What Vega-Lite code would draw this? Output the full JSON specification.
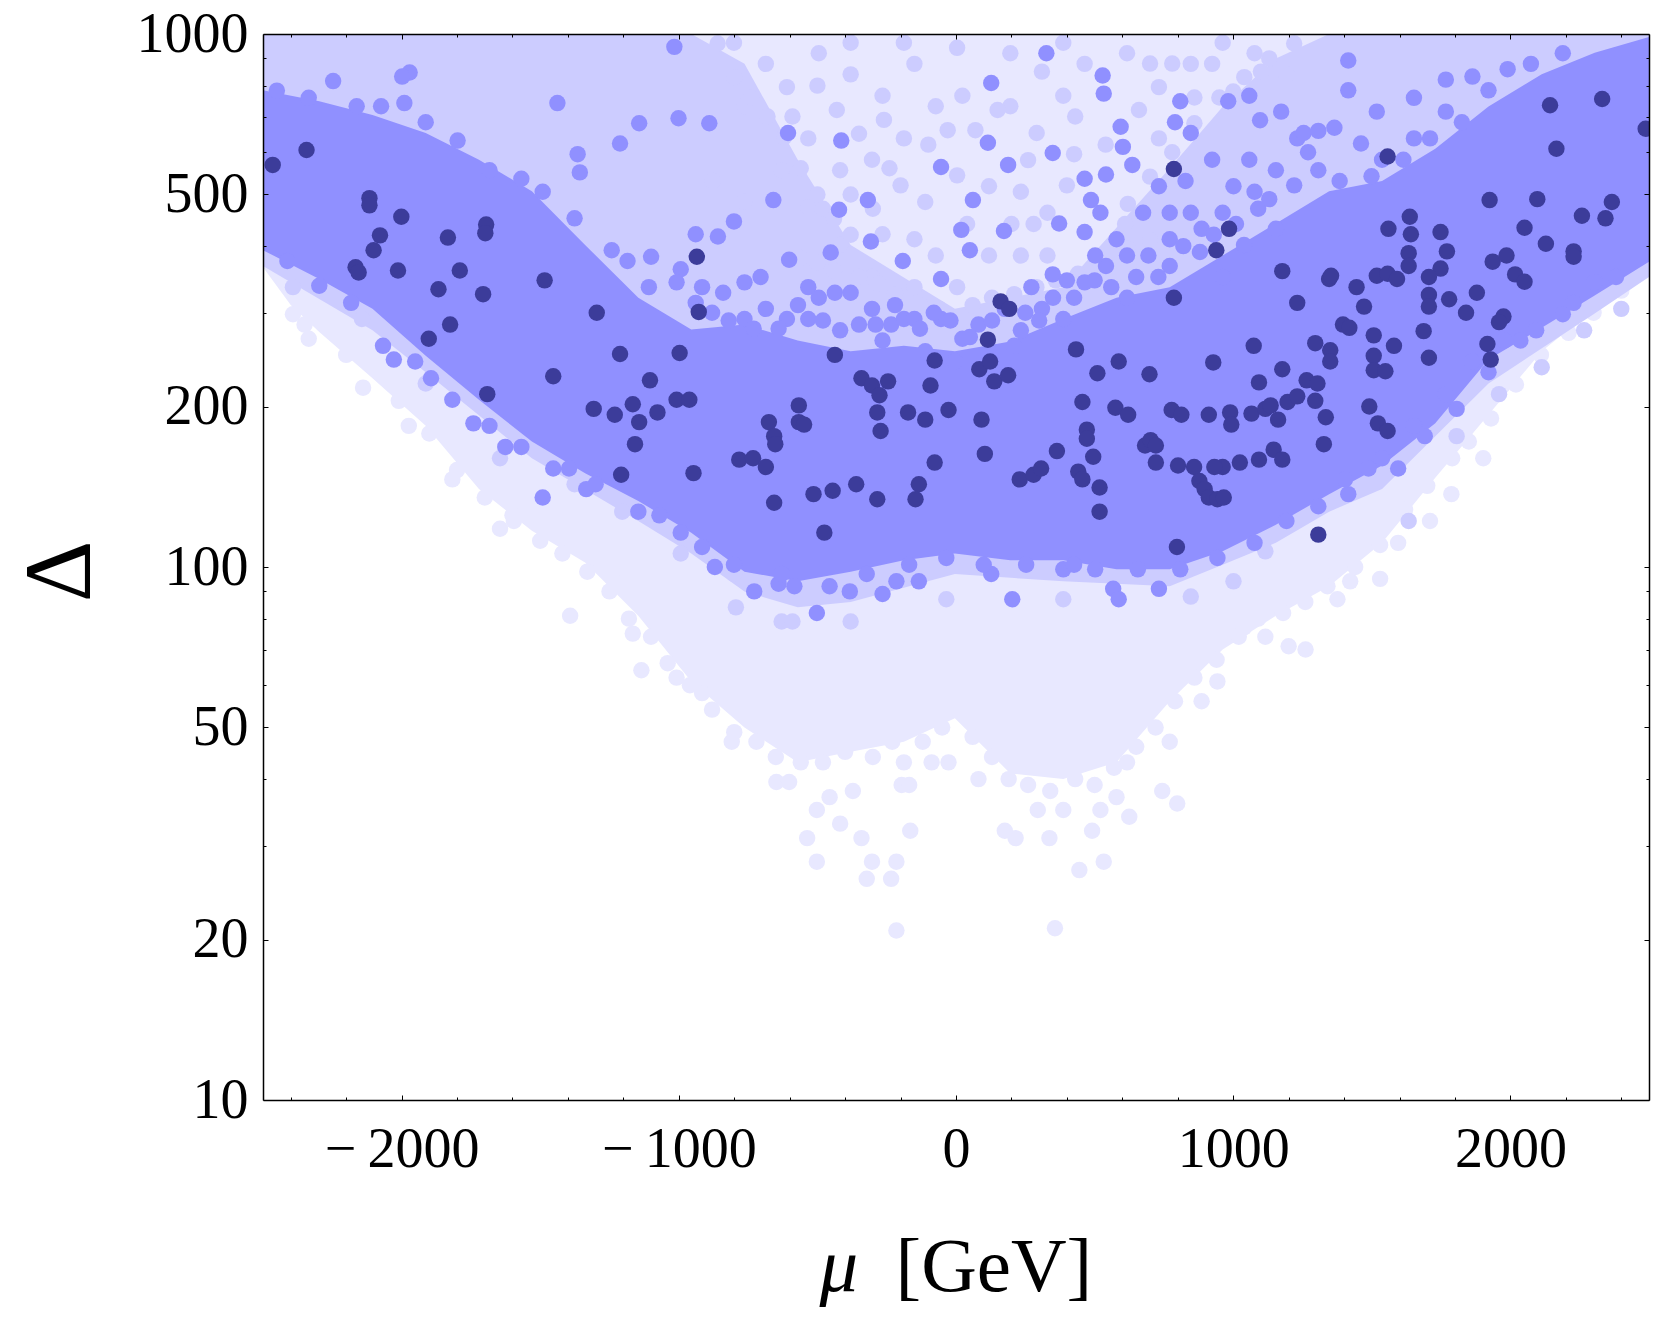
{
  "$schema": "https://vega.github.io/schema/vega-lite/v6.json",
  "width": 1386,
  "height": 1066,
  "autosize": "none",
  "padding": {"left": 263, "top": 34, "right": 18, "bottom": 223},
  "background": "#ffffff",
  "view": {"stroke": null, "fill": "#ffffff"},
  "resolve": {"axis": {"x": "independent", "y": "independent"}},
  "datasets": {
    "cloud1": [
      {"mu":-2500,"low":365,"high":1000},{"mu":-2400,"low":310,"high":1000},{"mu":-2297,"low":276,"high":1000},{"mu":-2105,"low":226,"high":1000},{"mu":-1913,"low":184,"high":1000},{"mu":-1721,"low":140,"high":1000},{"mu":-1530,"low":117,"high":1000},{"mu":-1338,"low":102,"high":1000},{"mu":-1146,"low":81,"high":1000},{"mu":-955,"low":61,"high":1000},{"mu":-763,"low":50,"high":1000},{"mu":-571,"low":43,"high":1000},{"mu":-380,"low":45,"high":1000},{"mu":-188,"low":47,"high":1000},{"mu":-4,"low":52,"high":1000},{"mu":196,"low":41,"high":1000},{"mu":387,"low":40,"high":1000},{"mu":579,"low":43,"high":1000},{"mu":771,"low":56,"high":1000},{"mu":962,"low":70,"high":1000},{"mu":1154,"low":81,"high":1000},{"mu":1346,"low":92,"high":1000},{"mu":1537,"low":111,"high":1000},{"mu":1729,"low":147,"high":1000},{"mu":1921,"low":193,"high":1000},{"mu":2113,"low":254,"high":1000},{"mu":2304,"low":305,"high":1000},{"mu":2500,"low":365,"high":1000}
    ],
    "dots1": [
      {"mu":-215,"delta":20.8},{"mu":357,"delta":21},{"mu":-234,"delta":26},{"mu":-215,"delta":28},{"mu":-303,"delta":28},{"mu":-322,"delta":26},{"mu":-502,"delta":28},{"mu":-537,"delta":31},{"mu":-502,"delta":35},{"mu":-418,"delta":33},{"mu":-341,"delta":31},{"mu":-165,"delta":32},{"mu":176,"delta":32},{"mu":215,"delta":31},{"mu":337,"delta":31},{"mu":445,"delta":27},{"mu":533,"delta":28},{"mu":491,"delta":32},{"mu":521,"delta":35},{"mu":625,"delta":34},{"mu":744,"delta":38},{"mu":798,"delta":36},{"mu":579,"delta":37},{"mu":387,"delta":35},{"mu":295,"delta":35},{"mu":81,"delta":40},{"mu":-27,"delta":43},{"mu":-88,"delta":43},{"mu":-188,"delta":43},{"mu":-196,"delta":39},{"mu":-169,"delta":39},{"mu":-372,"delta":38},{"mu":-456,"delta":37},{"mu":-648,"delta":39.5},{"mu":-602,"delta":39.5},{"mu":-809,"delta":47},{"mu":-916,"delta":58},{"mu":-1008,"delta":62},{"mu":-1135,"delta":64},{"mu":-1166,"delta":75},{"mu":-1392,"delta":81},{"mu":-1212,"delta":93},{"mu":-1645,"delta":118},{"mu":-1595,"delta":122},{"mu":-1817,"delta":146},{"mu":-1974,"delta":184},{"mu":-2139,"delta":217},{"mu":-2335,"delta":268},{"mu":-2392,"delta":298},{"mu":1039,"delta":77},{"mu":1112,"delta":106},{"mu":1200,"delta":71},{"mu":1261,"delta":70},{"mu":1116,"delta":74},{"mu":1530,"delta":95},{"mu":1595,"delta":111},{"mu":1710,"delta":122},{"mu":1376,"delta":87},{"mu":1787,"delta":137},{"mu":1902,"delta":160},{"mu":1422,"delta":94},{"mu":943,"delta":61},{"mu":886,"delta":56},{"mu":771,"delta":47},{"mu":617,"delta":43},
      {"mu":-2350,"delta":285},{"mu":-2200,"delta":250},{"mu":-2010,"delta":205},{"mu":-1900,"delta":178},{"mu":-1800,"delta":152},{"mu":-1700,"delta":135},{"mu":-1600,"delta":125},{"mu":-1500,"delta":112},{"mu":-1420,"delta":106},{"mu":-1330,"delta":98},{"mu":-1250,"delta":90},{"mu":-1180,"delta":80},{"mu":-1100,"delta":74},{"mu":-1040,"delta":66},{"mu":-960,"delta":60},{"mu":-880,"delta":54},{"mu":-800,"delta":49},{"mu":-720,"delta":47},{"mu":-650,"delta":44},{"mu":-560,"delta":43},{"mu":-480,"delta":43},{"mu":-400,"delta":45},{"mu":-300,"delta":44},{"mu":-230,"delta":47},{"mu":-120,"delta":47},{"mu":-50,"delta":50},{"mu":60,"delta":48},{"mu":130,"delta":44},{"mu":190,"delta":40},{"mu":260,"delta":39},{"mu":340,"delta":38},{"mu":430,"delta":40},{"mu":500,"delta":39},{"mu":570,"delta":42},{"mu":650,"delta":46},{"mu":720,"delta":50},{"mu":790,"delta":56},{"mu":860,"delta":62},{"mu":940,"delta":67},{"mu":1020,"delta":74},{"mu":1090,"delta":80},{"mu":1180,"delta":82},{"mu":1260,"delta":86},{"mu":1340,"delta":92},{"mu":1440,"delta":100},{"mu":1530,"delta":110},{"mu":1620,"delta":128},{"mu":1700,"delta":142},{"mu":1790,"delta":160},{"mu":1850,"delta":172},{"mu":1930,"delta":190},{"mu":2020,"delta":220},{"mu":2110,"delta":250},{"mu":2210,"delta":275},{"mu":2300,"delta":300},{"mu":2400,"delta":330}
    ],
    "cloud2": [
      {"mu":-2500,"low":367,"high":1000},{"mu":-2105,"low":278,"high":1000},{"mu":-1913,"low":232,"high":1000},{"mu":-1530,"low":160,"high":1000},{"mu":-1146,"low":122,"high":1000},{"mu":-955,"low":106,"high":1000},{"mu":-763,"low":90,"high":879},{"mu":-571,"low":84,"high":581},{"mu":-380,"low":86,"high":402},{"mu":-4,"low":97,"high":305},{"mu":387,"low":94,"high":335},{"mu":771,"low":92,"high":560},{"mu":962,"low":101,"high":730},{"mu":1154,"low":111,"high":900},{"mu":1346,"low":127,"high":1000},{"mu":1537,"low":140,"high":1000},{"mu":1729,"low":176,"high":1000},{"mu":1921,"low":221,"high":1000},{"mu":2304,"low":299,"high":1000},{"mu":2500,"low":350,"high":1000}
    ],
    "dots2": [
      {"mu":-763,"delta":732},{"mu":-686,"delta":879},{"mu":-610,"delta":795},{"mu":-495,"delta":920},{"mu":-380,"delta":840},{"mu":-265,"delta":766},{"mu":-150,"delta":879},{"mu":-73,"delta":732},{"mu":23,"delta":766},{"mu":196,"delta":732},{"mu":291,"delta":652},{"mu":387,"delta":766},{"mu":464,"delta":879},{"mu":617,"delta":920},{"mu":732,"delta":795},{"mu":-533,"delta":637},{"mu":-418,"delta":555},{"mu":-303,"delta":581},{"mu":-188,"delta":637},{"mu":-111,"delta":484},{"mu":4,"delta":543},{"mu":119,"delta":518},{"mu":234,"delta":506},{"mu":330,"delta":462},{"mu":426,"delta":595},{"mu":-533,"delta":473},{"mu":-629,"delta":555},{"mu":-265,"delta":421},{"mu":-150,"delta":412},{"mu":-73,"delta":384},{"mu":119,"delta":384},{"mu":234,"delta":384},{"mu":330,"delta":384},{"mu":4,"delta":335},{"mu":-150,"delta":335},{"mu":-303,"delta":350},{"mu":-418,"delta":402},{"mu":847,"delta":879},{"mu":962,"delta":963},{"mu":1077,"delta":920},{"mu":1192,"delta":840},{"mu":732,"delta":637},{"mu":-763,"delta":484},{"mu":-878,"delta":530},{"mu":196,"delta":920},{"mu":387,"delta":963},{"mu":4,"delta":942},{"mu":-188,"delta":963},{"mu":-380,"delta":963},{"mu":-801,"delta":963},{"mu":924,"delta":879},
      {"mu":1116,"delta":107},{"mu":1633,"delta":122},{"mu":1806,"delta":176},{"mu":1959,"delta":211},{"mu":2113,"delta":237},{"mu":2266,"delta":278},{"mu":2400,"delta":305},{"mu":-380,"delta":79},{"mu":-35,"delta":87},{"mu":387,"delta":87},{"mu":-629,"delta":79},{"mu":-794,"delta":84},{"mu":-590,"delta":79},{"mu":847,"delta":88},{"mu":1001,"delta":94},{"mu":-993,"delta":106},{"mu":-1204,"delta":127},{"mu":-1376,"delta":143},{"mu":-1645,"delta":160},{"mu":-1913,"delta":221},{"mu":-2143,"delta":292},{"mu":-2392,"delta":335},{"mu":-801,"delta":97},
      {"mu":-560,"delta":380},{"mu":-500,"delta":372},{"mu":-440,"delta":360},{"mu":-350,"delta":350},{"mu":-280,"delta":340},{"mu":-220,"delta":325},{"mu":-130,"delta":310},{"mu":-60,"delta":305},{"mu":60,"delta":310},{"mu":130,"delta":320},{"mu":210,"delta":325},{"mu":290,"delta":335},{"mu":360,"delta":345},{"mu":440,"delta":355},{"mu":520,"delta":370},{"mu":620,"delta":395},{"mu":700,"delta":410},
      {"mu":-590,"delta":700},{"mu":-500,"delta":800},{"mu":-430,"delta":720},{"mu":-350,"delta":650},{"mu":-260,"delta":690},{"mu":-200,"delta":520},{"mu":-100,"delta":620},{"mu":-30,"delta":660},{"mu":70,"delta":660},{"mu":150,"delta":720},{"mu":260,"delta":580},{"mu":310,"delta":850},{"mu":430,"delta":700},{"mu":540,"delta":620},{"mu":660,"delta":720},{"mu":700,"delta":880},{"mu":780,"delta":880},{"mu":860,"delta":760},{"mu":1000,"delta":780},{"mu":1100,"delta":850},{"mu":-300,"delta":470},{"mu":-240,"delta":560},{"mu":40,"delta":440},{"mu":200,"delta":440},{"mu":280,"delta":440},{"mu":400,"delta":520},{"mu":620,"delta":480},{"mu":-480,"delta":470},{"mu":-380,"delta":500},{"mu":610,"delta":440},
      {"mu":-860,"delta":960},{"mu":-800,"delta":830},{"mu":-740,"delta":760},{"mu":-680,"delta":700},{"mu":-620,"delta":640},{"mu":-560,"delta":560},{"mu":-500,"delta":500},{"mu":-440,"delta":450},{"mu":-380,"delta":420},{"mu":700,"delta":540},{"mu":780,"delta":600},{"mu":860,"delta":680},{"mu":950,"delta":760},{"mu":1040,"delta":830},{"mu":1130,"delta":900},{"mu":1220,"delta":960}
    ],
    "cloud3": [
      {"mu":-2500,"low":393,"high":784},{"mu":-2297,"low":347,"high":748},{"mu":-2105,"low":305,"high":705},{"mu":-1913,"low":249,"high":652},{"mu":-1721,"low":206,"high":581},{"mu":-1530,"low":172,"high":507},{"mu":-1338,"low":150,"high":402},{"mu":-1146,"low":133,"high":320},{"mu":-955,"low":116,"high":279},{"mu":-763,"low":98,"high":285},{"mu":-571,"low":94,"high":266},{"mu":-380,"low":98,"high":254},{"mu":-188,"low":103,"high":260},{"mu":-4,"low":106,"high":254},{"mu":196,"low":103,"high":265},{"mu":387,"low":103,"high":292},{"mu":579,"low":99,"high":320},{"mu":771,"low":99,"high":335},{"mu":962,"low":107,"high":384},{"mu":1154,"low":120,"high":441},{"mu":1346,"low":137,"high":507},{"mu":1537,"low":155,"high":530},{"mu":1729,"low":186,"high":609},{"mu":1921,"low":245,"high":731},{"mu":2113,"low":281,"high":840},{"mu":2304,"low":323,"high":922},{"mu":2500,"low":374,"high":987}
    ],
    "dots3": [
      {"mu":-1016,"delta":946},{"mu":-1438,"delta":742},{"mu":-890,"delta":680},{"mu":-1001,"delta":695},{"mu":-1143,"delta":680},{"mu":-1212,"delta":623},{"mu":-1365,"delta":595},{"mu":-1357,"delta":550},{"mu":-606,"delta":652},{"mu":-659,"delta":488},{"mu":-414,"delta":631},{"mu":-318,"delta":488},{"mu":-422,"delta":468},{"mu":-54,"delta":563},{"mu":61,"delta":488},{"mu":127,"delta":809},{"mu":115,"delta":625},{"mu":188,"delta":568},{"mu":349,"delta":598},{"mu":326,"delta":920},{"mu":529,"delta":836},{"mu":533,"delta":773},{"mu":594,"delta":670},{"mu":602,"delta":614},{"mu":541,"delta":545},{"mu":464,"delta":535},{"mu":487,"delta":488},{"mu":521,"delta":462},{"mu":464,"delta":425},{"mu":372,"delta":441},{"mu":173,"delta":427},{"mu":19,"delta":429},{"mu":50,"delta":393},{"mu":-192,"delta":375},{"mu":-307,"delta":408},{"mu":-452,"delta":389},{"mu":-602,"delta":377},{"mu":-705,"delta":350},{"mu":-763,"delta":342},{"mu":-801,"delta":445},{"mu":-859,"delta":417},{"mu":-939,"delta":421},{"mu":-1100,"delta":382},{"mu":-993,"delta":362},{"mu":-916,"delta":335},{"mu":-840,"delta":327},{"mu":-763,"delta":292},{"mu":-686,"delta":305},{"mu":-610,"delta":292},{"mu":-533,"delta":335},{"mu":-495,"delta":320},{"mu":-437,"delta":327},{"mu":-380,"delta":327},{"mu":-303,"delta":305},{"mu":-234,"delta":285},{"mu":-188,"delta":292},{"mu":-54,"delta":347},{"mu":-54,"delta":292},{"mu":23,"delta":268},{"mu":81,"delta":285},{"mu":176,"delta":305},{"mu":272,"delta":335},{"mu":349,"delta":354},{"mu":464,"delta":342},{"mu":541,"delta":367},{"mu":617,"delta":384},{"mu":694,"delta":384},{"mu":771,"delta":412},{"mu":886,"delta":431},{"mu":962,"delta":462},{"mu":1077,"delta":506},{"mu":1154,"delta":555},{"mu":1231,"delta":637},{"mu":1307,"delta":555},{"mu":1415,"delta":892},{"mu":1415,"delta":784},{"mu":1518,"delta":715},{"mu":1254,"delta":652},{"mu":1307,"delta":658},{"mu":1365,"delta":667},{"mu":1097,"delta":689},{"mu":1173,"delta":715},{"mu":1058,"delta":766},{"mu":982,"delta":748},{"mu":809,"delta":748},{"mu":790,"delta":683},{"mu":847,"delta":652},{"mu":924,"delta":581},{"mu":828,"delta":530},{"mu":732,"delta":518},{"mu":636,"delta":568},{"mu":675,"delta":462},{"mu":771,"delta":462},{"mu":847,"delta":462},{"mu":1058,"delta":581},{"mu":1001,"delta":518},{"mu":1652,"delta":759},{"mu":1767,"delta":821},{"mu":1863,"delta":832},{"mu":1990,"delta":859},{"mu":1461,"delta":623},{"mu":1537,"delta":581},{"mu":1652,"delta":637},{"mu":1767,"delta":715},{"mu":-265,"delta":266},{"mu":-150,"delta":292},{"mu":-418,"delta":278},{"mu":-533,"delta":292},{"mu":-111,"delta":254},{"mu":-4,"delta":243},{"mu":310,"delta":305},{"mu":426,"delta":320},{"mu":617,"delta":320},{"mu":771,"delta":367},{"mu":962,"delta":350},{"mu":1039,"delta":402},{"mu":1154,"delta":431},{"mu":502,"delta":384},{"mu":579,"delta":412},{"mu":387,"delta":292},{"mu":234,"delta":278},
      {"mu":-1491,"delta":135},{"mu":-1334,"delta":140},{"mu":-1396,"delta":153},{"mu":-1626,"delta":168},{"mu":-1741,"delta":186},{"mu":-1894,"delta":226},{"mu":-2028,"delta":245},{"mu":-2067,"delta":260},{"mu":-1146,"delta":127},{"mu":-993,"delta":116},{"mu":-870,"delta":100},{"mu":-728,"delta":90},{"mu":-640,"delta":93},{"mu":-583,"delta":92},{"mu":-502,"delta":82},{"mu":-383,"delta":90},{"mu":-215,"delta":94},{"mu":-265,"delta":89},{"mu":-134,"delta":94},{"mu":127,"delta":97},{"mu":203,"delta":87},{"mu":567,"delta":91},{"mu":587,"delta":87},{"mu":732,"delta":91},{"mu":387,"delta":99},{"mu":1488,"delta":153},{"mu":1415,"delta":137},{"mu":1595,"delta":153},{"mu":1691,"delta":176},{"mu":1806,"delta":198},{"mu":1921,"delta":232},{"mu":2036,"delta":266},{"mu":2189,"delta":298},{"mu":2304,"delta":342},
      {"mu":-2412,"delta":375},{"mu":-2297,"delta":337},{"mu":-2182,"delta":313},{"mu":-1951,"delta":243},{"mu":-1817,"delta":206},{"mu":-1683,"delta":184},{"mu":-1568,"delta":168},{"mu":-1453,"delta":153},{"mu":-1300,"delta":143},{"mu":-1070,"delta":125},{"mu":-916,"delta":109},{"mu":-801,"delta":101},{"mu":-629,"delta":97},{"mu":-456,"delta":92},{"mu":-322,"delta":97},{"mu":-169,"delta":101},{"mu":-35,"delta":104},{"mu":100,"delta":101},{"mu":253,"delta":101},{"mu":426,"delta":101},{"mu":502,"delta":99},{"mu":656,"delta":99},{"mu":809,"delta":99},{"mu":943,"delta":104},{"mu":1077,"delta":111},{"mu":1192,"delta":122},{"mu":1307,"delta":130},{"mu":1403,"delta":146},{"mu":1537,"delta":160},{"mu":1652,"delta":184},{"mu":1767,"delta":211},{"mu":1863,"delta":243},{"mu":1978,"delta":266},{"mu":2093,"delta":278},{"mu":2228,"delta":313},{"mu":2381,"delta":350},
      {"mu":-2450,"delta":783},{"mu":-2335,"delta":759},{"mu":-2247,"delta":816},{"mu":-2162,"delta":732},{"mu":-2074,"delta":732},{"mu":-1990,"delta":742},{"mu":-1971,"delta":847},{"mu":-1998,"delta":832},{"mu":-1913,"delta":683},{"mu":-1798,"delta":631},{"mu":-1683,"delta":555},{"mu":-1568,"delta":535},{"mu":-1491,"delta":506},{"mu":-1376,"delta":451},{"mu":-1242,"delta":393},{"mu":-1185,"delta":375},{"mu":-1108,"delta":335},{"mu":-1008,"delta":342},{"mu":-939,"delta":313},{"mu":1384,"delta":530},{"mu":1499,"delta":541},{"mu":1614,"delta":581},{"mu":1710,"delta":637},{"mu":1825,"delta":683},{"mu":1921,"delta":784},{"mu":2074,"delta":879},{"mu":2189,"delta":920},
      {"mu":-880,"delta":300},{"mu":-820,"delta":290},{"mu":-730,"delta":280},{"mu":-640,"delta":280},{"mu":-570,"delta":310},{"mu":-480,"delta":290},{"mu":-350,"delta":285},{"mu":-290,"delta":285},{"mu":-220,"delta":310},{"mu":-130,"delta":280},{"mu":-80,"delta":300},{"mu":-20,"delta":290},{"mu":50,"delta":270},{"mu":130,"delta":290},{"mu":210,"delta":260},{"mu":250,"delta":300},{"mu":300,"delta":290},{"mu":350,"delta":320},{"mu":400,"delta":345},{"mu":500,"delta":345},{"mu":560,"delta":335},{"mu":650,"delta":350},{"mu":730,"delta":350},{"mu":820,"delta":400},{"mu":880,"delta":390},{"mu":930,"delta":420},{"mu":1010,"delta":440},{"mu":1090,"delta":470},{"mu":1130,"delta":490},{"mu":1220,"delta":520},{"mu":1270,"delta":600}
    ],
    "dots4": [
      {"mu":-2465,"delta":568},{"mu":-2343,"delta":606},{"mu":-2116,"delta":492},{"mu":-2116,"delta":477},{"mu":-2001,"delta":454},{"mu":-2078,"delta":419},{"mu":-2101,"delta":393},{"mu":-2166,"delta":365},{"mu":-2155,"delta":357},{"mu":-2013,"delta":360},{"mu":-1833,"delta":415},{"mu":-1695,"delta":439},{"mu":-1698,"delta":423},{"mu":-1790,"delta":360},{"mu":-1867,"delta":332},{"mu":-1706,"delta":325},{"mu":-1825,"delta":285},{"mu":-1902,"delta":268},{"mu":-1484,"delta":345},{"mu":-1296,"delta":300},{"mu":-1691,"delta":211},{"mu":-1453,"delta":228},{"mu":-1212,"delta":251},{"mu":-997,"delta":252},{"mu":-935,"delta":382},{"mu":-928,"delta":301},{"mu":-1104,"delta":224},{"mu":-1166,"delta":202},{"mu":-1307,"delta":198},{"mu":-1231,"delta":193},{"mu":-1143,"delta":187},{"mu":-1158,"delta":170},{"mu":-1208,"delta":149},{"mu":-1008,"delta":206},{"mu":-962,"delta":206},{"mu":-1077,"delta":195},{"mu":-947,"delta":150},{"mu":-782,"delta":159},{"mu":-732,"delta":160},{"mu":-686,"delta":154},{"mu":-675,"delta":187},{"mu":-567,"delta":201},{"mu":-567,"delta":187},{"mu":-548,"delta":185},{"mu":-656,"delta":176},{"mu":-652,"delta":170},{"mu":-656,"delta":132},{"mu":-514,"delta":137},{"mu":-445,"delta":139},{"mu":-360,"delta":143},{"mu":-284,"delta":134},{"mu":-475,"delta":116},{"mu":-437,"delta":250},{"mu":-341,"delta":226},{"mu":-303,"delta":219},{"mu":-245,"delta":223},{"mu":-276,"delta":210},{"mu":-284,"delta":195},{"mu":-272,"delta":180},{"mu":-173,"delta":195},{"mu":-111,"delta":189},{"mu":-77,"delta":244},{"mu":-92,"delta":219},{"mu":-77,"delta":157},{"mu":-134,"delta":143},{"mu":-146,"delta":134},{"mu":-27,"delta":197},{"mu":92,"delta":189},{"mu":104,"delta":163},{"mu":84,"delta":235},{"mu":115,"delta":267},{"mu":123,"delta":243},{"mu":138,"delta":223},{"mu":188,"delta":229},{"mu":161,"delta":315},{"mu":192,"delta":305},{"mu":230,"delta":146},{"mu":280,"delta":149},{"mu":307,"delta":153},{"mu":364,"delta":165},{"mu":433,"delta":256},{"mu":456,"delta":204},{"mu":472,"delta":181},{"mu":472,"delta":174},{"mu":495,"delta":161},{"mu":441,"delta":151},{"mu":456,"delta":146},{"mu":518,"delta":141},{"mu":518,"delta":127},{"mu":510,"delta":231},{"mu":587,"delta":243},{"mu":575,"delta":199},{"mu":621,"delta":193},{"mu":698,"delta":230},{"mu":682,"delta":169},{"mu":702,"delta":173},{"mu":721,"delta":169},{"mu":721,"delta":157},{"mu":797,"delta":109},{"mu":786,"delta":558},{"mu":939,"delta":393},{"mu":985,"delta":431},{"mu":786,"delta":320},{"mu":778,"delta":197},{"mu":813,"delta":193},{"mu":801,"delta":155},{"mu":859,"delta":154},{"mu":878,"delta":145},{"mu":897,"delta":140},{"mu":912,"delta":135},{"mu":943,"delta":134},{"mu":966,"delta":135},{"mu":912,"delta":193},{"mu":928,"delta":242},{"mu":989,"delta":195},{"mu":993,"delta":185},{"mu":962,"delta":154},{"mu":932,"delta":154},{"mu":1024,"delta":157},{"mu":1074,"delta":260},{"mu":1093,"delta":222},{"mu":1066,"delta":194},{"mu":1116,"delta":198},{"mu":1135,"delta":201},{"mu":1177,"delta":235},{"mu":1093,"delta":159},{"mu":1146,"delta":166},{"mu":1177,"delta":159},{"mu":1162,"delta":189},{"mu":1196,"delta":204},{"mu":1231,"delta":209},{"mu":1177,"delta":359},{"mu":1231,"delta":313},{"mu":1296,"delta":263},{"mu":1265,"delta":224},{"mu":1304,"delta":221},{"mu":1296,"delta":205},{"mu":1334,"delta":191},{"mu":1327,"delta":170},{"mu":1307,"delta":115},{"mu":1350,"delta":255},{"mu":1350,"delta":243},{"mu":1346,"delta":347},{"mu":1353,"delta":352},{"mu":1396,"delta":285},{"mu":1419,"delta":281},{"mu":1445,"delta":335},{"mu":1472,"delta":308},{"mu":1507,"delta":272},{"mu":1507,"delta":249},{"mu":1518,"delta":352},{"mu":1507,"delta":234},{"mu":1549,"delta":233},{"mu":1491,"delta":200},{"mu":1522,"delta":186},{"mu":1557,"delta":180},{"mu":1557,"delta":355},{"mu":1591,"delta":347},{"mu":1580,"delta":260},{"mu":1633,"delta":388},{"mu":1633,"delta":367},{"mu":1560,"delta":431},{"mu":1637,"delta":454},{"mu":1641,"delta":421},{"mu":1748,"delta":425},{"mu":1771,"delta":391},{"mu":1748,"delta":363},{"mu":1706,"delta":350},{"mu":1706,"delta":324},{"mu":1706,"delta":308},{"mu":1779,"delta":318},{"mu":1840,"delta":300},{"mu":1879,"delta":327},{"mu":1687,"delta":277},{"mu":1706,"delta":247},{"mu":1917,"delta":262},{"mu":1929,"delta":245},{"mu":1925,"delta":488},{"mu":1936,"delta":374},{"mu":1986,"delta":384},{"mu":2017,"delta":354},{"mu":2051,"delta":343},{"mu":1975,"delta":295},{"mu":1959,"delta":288},{"mu":2051,"delta":433},{"mu":2128,"delta":404},{"mu":2097,"delta":490},{"mu":2143,"delta":735},{"mu":2166,"delta":609},{"mu":2331,"delta":755},{"mu":2258,"delta":456},{"mu":2366,"delta":484},{"mu":2343,"delta":451},{"mu":2228,"delta":391},{"mu":2228,"delta":382},{"mu":2488,"delta":664},{"mu":1557,"delta":589}
    ]
  },
  "layer": [
    {
      "data": {"name": "cloud1"},
      "mark": {"type": "area", "color": "#E8E8FF", "orient": "vertical", "clip": true},
      "encoding": {
        "x": {"field": "mu", "type": "quantitative", "scale": {"domain": [-2500, 2500], "nice": false, "zero": false},
          "axis": {"orient": "bottom", "zindex": 1, "grid": false, "values": [-2000, -1000, 0, 1000, 2000], "tickSize": -5, "tickColor": "#000000", "tickWidth": 1,
            "domainColor": "#000000", "domainWidth": 1.5, "labelFont": "Liberation Serif", "labelFontSize": 56, "labelColor": "#000000", "labelPadding": 27,
            "labelExpr": "datum.value < 0 ? '\u2212\u2009' + abs(datum.value) : '' + datum.value",
            "title": "\u03bc", "titleFont": "Liberation Serif", "titleFontStyle": "italic", "titleFontWeight": "normal", "titleFontSize": 77, "titleColor": "#000000", "titleX": 556, "titleY": 190, "titleAlign": "left", "titleBaseline": "alphabetic"}},
        "y": {"field": "low", "type": "quantitative", "scale": {"type": "log", "domain": [10, 1000], "nice": false},
          "axis": {"orient": "left", "zindex": 1, "grid": false, "values": [10, 20, 50, 100, 200, 500, 1000], "format": "d", "tickSize": -5, "tickColor": "#000000", "tickWidth": 1,
            "domainColor": "#000000", "domainWidth": 1.5, "labelFont": "Liberation Serif", "labelFontSize": 56, "labelColor": "#000000", "labelPadding": 20,
            "title": "\u0394", "titleFont": "Liberation Serif", "titleFontWeight": "normal", "titleFontSize": 96, "titleColor": "#000000", "titleX": -174, "titleY": 537, "titleAlign": "center", "titleBaseline": "alphabetic", "titleAngle": -90}},
        "y2": {"field": "high"}
      }
    },
    {
      "data": {"name": "dots1"},
      "mark": {"type": "circle", "size": 270, "color": "#E8E8FF", "opacity": 1, "clip": true},
      "encoding": {
        "x": {"field": "mu", "type": "quantitative", "scale": {"domain": [-2500, 2500], "nice": false, "zero": false},
          "axis": {"orient": "bottom", "zindex": 1, "grid": false, "values": [-2400, -2200, -1800, -1600, -1400, -1200, -800, -600, -400, -200, 200, 400, 600, 800, 1200, 1400, 1600, 1800, 2200, 2400], "tickSize": -3, "tickColor": "#000000", "tickWidth": 1, "domain": false, "labels": false,
            "title": "[GeV]", "titleFont": "Liberation Serif", "titleFontWeight": "normal", "titleFontSize": 77, "titleColor": "#000000", "titleX": 632, "titleY": 190, "titleAlign": "left", "titleBaseline": "alphabetic"}},
        "y": {"field": "delta", "type": "quantitative", "scale": {"type": "log", "domain": [10, 1000], "nice": false},
          "axis": {"orient": "left", "zindex": 1, "grid": false, "values": [30, 40, 60, 70, 80, 90, 300, 400, 600, 700, 800, 900], "tickSize": -3, "tickColor": "#000000", "tickWidth": 1, "domain": false, "labels": false, "title": null}}
      }
    },
    {
      "data": {"name": "cloud2"},
      "mark": {"type": "area", "color": "#CCCCFF", "orient": "vertical", "clip": true},
      "encoding": {
        "x": {"field": "mu", "type": "quantitative", "scale": {"domain": [-2500, 2500], "nice": false, "zero": false},
          "axis": {"orient": "top", "zindex": 1, "grid": false, "values": [-2000, -1000, 0, 1000, 2000], "tickSize": -5, "tickColor": "#000000", "tickWidth": 1, "domainColor": "#000000", "domainWidth": 1.5, "labels": false, "title": null}},
        "y": {"field": "low", "type": "quantitative", "scale": {"type": "log", "domain": [10, 1000], "nice": false},
          "axis": {"orient": "right", "zindex": 1, "grid": false, "values": [10, 20, 50, 100, 200, 500, 1000], "tickSize": -5, "tickColor": "#000000", "tickWidth": 1, "domainColor": "#000000", "domainWidth": 1.5, "labels": false, "title": null}},
        "y2": {"field": "high"}
      }
    },
    {
      "data": {"name": "dots2"},
      "mark": {"type": "circle", "size": 270, "color": "#CCCCFF", "opacity": 1, "clip": true},
      "encoding": {
        "x": {"field": "mu", "type": "quantitative", "scale": {"domain": [-2500, 2500], "nice": false, "zero": false},
          "axis": {"orient": "top", "zindex": 1, "grid": false, "values": [-2400, -2200, -1800, -1600, -1400, -1200, -800, -600, -400, -200, 200, 400, 600, 800, 1200, 1400, 1600, 1800, 2200, 2400], "tickSize": -3, "tickColor": "#000000", "tickWidth": 1, "domain": false, "labels": false, "title": null}},
        "y": {"field": "delta", "type": "quantitative", "scale": {"type": "log", "domain": [10, 1000], "nice": false},
          "axis": {"orient": "right", "zindex": 1, "grid": false, "values": [30, 40, 60, 70, 80, 90, 300, 400, 600, 700, 800, 900], "tickSize": -3, "tickColor": "#000000", "tickWidth": 1, "domain": false, "labels": false, "title": null}}
      }
    },
    {
      "data": {"name": "cloud3"},
      "mark": {"type": "area", "color": "#9090FF", "orient": "vertical", "clip": true},
      "encoding": {
        "x": {"field": "mu", "type": "quantitative", "scale": {"domain": [-2500, 2500], "nice": false, "zero": false}, "axis": null},
        "y": {"field": "low", "type": "quantitative", "scale": {"type": "log", "domain": [10, 1000], "nice": false}, "axis": null},
        "y2": {"field": "high"}
      }
    },
    {
      "data": {"name": "dots3"},
      "mark": {"type": "circle", "size": 270, "color": "#9090FF", "opacity": 1, "clip": true},
      "encoding": {
        "x": {"field": "mu", "type": "quantitative", "scale": {"domain": [-2500, 2500], "nice": false, "zero": false}, "axis": null},
        "y": {"field": "delta", "type": "quantitative", "scale": {"type": "log", "domain": [10, 1000], "nice": false}, "axis": null}
      }
    },
    {
      "data": {"name": "dots4"},
      "mark": {"type": "circle", "size": 270, "color": "#3C3C9A", "opacity": 1, "clip": true},
      "encoding": {
        "x": {"field": "mu", "type": "quantitative", "scale": {"domain": [-2500, 2500], "nice": false, "zero": false}, "axis": null},
        "y": {"field": "delta", "type": "quantitative", "scale": {"type": "log", "domain": [10, 1000], "nice": false}, "axis": null}
      }
    }
  ]
}
